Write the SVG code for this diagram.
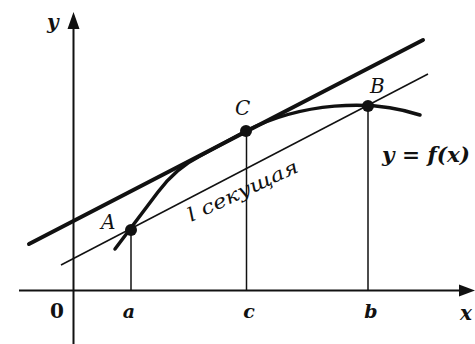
<svg xmlns="http://www.w3.org/2000/svg" width="475" height="344" viewBox="0 0 475 344">
<style>
.ax{stroke:#111;stroke-width:2;fill:none}
.thin{stroke:#111;stroke-width:1.5;fill:none}
.thick{stroke:#111;stroke-width:4;fill:none;stroke-linecap:round}
.curve{stroke:#111;stroke-width:3.5;fill:none;stroke-linecap:round;stroke-linejoin:round}
.pt{fill:#111}
.lbl{font-family:"DejaVu Serif","Liberation Serif",serif;font-style:italic;fill:#111}
.bl{font-family:"DejaVu Serif","Liberation Serif",serif;font-style:italic;font-weight:bold;fill:#111}
.num{font-family:"DejaVu Serif","Liberation Serif",serif;font-weight:bold;fill:#111}
</style>
<rect width="475" height="344" fill="#fff"/>
<g id="axes">
<line class="ax" x1="73.5" y1="344" x2="73.5" y2="24"/>
<polygon class="pt" points="73.5,12 67.5,29 79.5,29"/>
<line class="ax" x1="19" y1="290.5" x2="462" y2="290.5"/>
<polygon class="pt" points="475,290.5 459,284.5 459,296.5"/>
<text class="bl" x="47" y="29" font-size="20">y</text>
<text class="bl" x="466" y="320" font-size="20" text-anchor="middle">x</text>
<text class="num" x="57" y="318" font-size="20" text-anchor="middle">0</text>
<text class="bl" x="129" y="318" font-size="19" text-anchor="middle">a</text>
<text class="bl" x="249" y="318" font-size="19" text-anchor="middle">c</text>
<text class="bl" x="371" y="318" font-size="19" text-anchor="middle">b</text>
</g>
<g id="connectors">
<line id="tangent" class="thick" x1="29" y1="244" x2="423" y2="40"/>
<line id="secant" class="thin" x1="61" y1="265" x2="428" y2="74"/>
<path id="curve" class="curve" d="M115,249 L158,192 Q176,168 200,156 L246,131 C300,103 370,98 420,115"/>
<line class="thin" x1="131" y1="230" x2="131" y2="291"/>
<line class="thin" x1="246.5" y1="131" x2="246.5" y2="291"/>
<line class="thin" x1="368" y1="106" x2="368" y2="291"/>
</g>
<g id="node-A">
<circle class="pt" cx="131" cy="230" r="6"/>
<text class="lbl" x="101" y="229" font-size="20">A</text>
</g>
<g id="node-C">
<circle class="pt" cx="246" cy="131" r="6"/>
<text class="lbl" x="235" y="115" font-size="20">C</text>
</g>
<g id="node-B">
<circle class="pt" cx="368" cy="106" r="6"/>
<text class="lbl" x="370" y="93" font-size="20">B</text>
</g>
<g id="labels">
<text class="bl" x="382" y="162" font-size="20" textLength="88" lengthAdjust="spacingAndGlyphs">y = f(x)</text>
<text class="lbl" x="0" y="0" font-size="19" textLength="120" lengthAdjust="spacingAndGlyphs" transform="translate(191,222) rotate(-25)">l секущая</text>
</g>
</svg>
